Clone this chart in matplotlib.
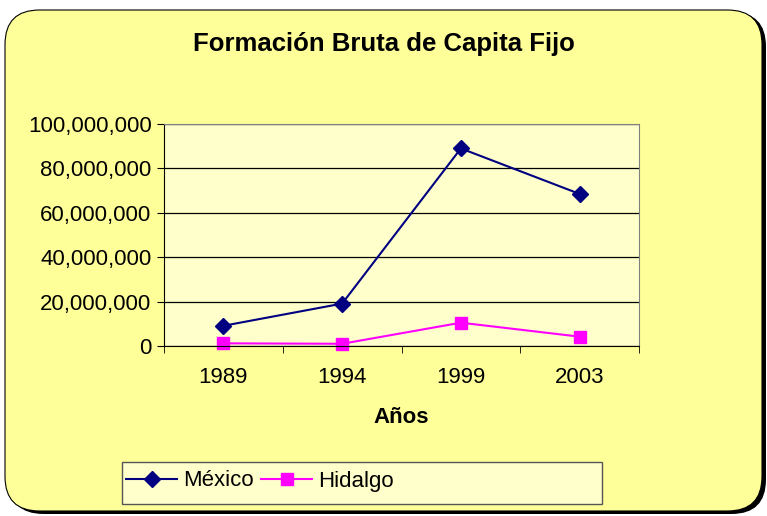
import matplotlib
matplotlib.use("Agg")
import matplotlib.pyplot as plt
from matplotlib.patches import FancyBboxPatch, Rectangle
from matplotlib.ticker import FuncFormatter

years = ["1989", "1994", "1999", "2003"]
mexico = [9100000, 19100000, 89000000, 68500000]
hidalgo = [1200000, 1000000, 10500000, 4200000]

W, H = 767, 516
fig = plt.figure(figsize=(W / 100, H / 100), dpi=100)
fig.patch.set_facecolor("white")
plt.rcParams["font.family"] = ["Liberation Sans", "DejaVu Sans"]

# outer frame with shadow
shadow = FancyBboxPatch((9 / W, 2 / H), 757 / W, 502 / H,
                        boxstyle="round,pad=0,rounding_size=0.045",
                        transform=fig.transFigure, facecolor="black",
                        edgecolor="none", mutation_aspect=W / H, zorder=0)
frame = FancyBboxPatch((5 / W, 5 / H), 757 / W, 501 / H,
                       boxstyle="round,pad=0,rounding_size=0.045",
                       transform=fig.transFigure, facecolor="#FFFF99",
                       edgecolor="black", linewidth=0.8,
                       mutation_aspect=W / H, zorder=1)
legbox = Rectangle((122 / W, 1 - 504 / H), 480 / W, 42 / H,
                   transform=fig.transFigure, facecolor="#FFFFCC",
                   edgecolor="#555555", linewidth=1, zorder=2)
fig.patches.extend([shadow, frame, legbox])

ax = fig.add_axes([164 / W, 1 - 346 / H, 475 / W, 222 / H])
ax.set_facecolor("#FFFFCC")
ax.set_zorder(3)

x = list(range(len(years)))
ax.plot(x, mexico, color="#000080", linewidth=1.5, marker="D",
        markersize=8, label="México", clip_on=False)
ax.plot(x, hidalgo, color="#FF00FF", linewidth=1.5, marker="s",
        markersize=9, label="Hidalgo", clip_on=False)

ax.set_xlim(-0.5, len(years) - 0.5)
ax.set_ylim(0, 100000000)
ax.set_yticks(range(0, 100000001, 20000000))
ax.yaxis.set_major_formatter(FuncFormatter(lambda v, p: f"{int(v):,}"))
ax.set_xticks(x)
ax.set_xticklabels(years)
ax.set_xticks([i - 0.5 for i in range(len(years) + 1)], minor=True)
ax.tick_params(axis="x", which="major", length=0, pad=15, labelsize=16)
ax.tick_params(axis="x", which="minor", length=5, direction="out")
ax.tick_params(axis="y", length=5, direction="out", labelsize=16, pad=4)
ax.grid(axis="y", color="black", linewidth=0.9)
ax.set_axisbelow(True)
for s in ["top", "right"]:
    ax.spines[s].set_color("#808080")
ax.spines["left"].set_color("black")
ax.spines["bottom"].set_color("black")

ax.set_xlabel("Años", fontsize=16, fontweight="bold", labelpad=14)
fig.text(0.5, 1 - 44 / H, "Formación Bruta de Capita Fijo",
         ha="center", va="center", fontsize=18.5, fontweight="bold")

leg = fig.legend(loc="center left", bbox_to_anchor=(126 / W, 1 - 481 / H),
                 ncol=2, frameon=False, fontsize=16,
                 handlelength=2.3, handletextpad=0.25, columnspacing=0.35,
                 borderpad=0, borderaxespad=0)
leg.set_zorder(4)

fig.savefig("out.png", dpi=100)
